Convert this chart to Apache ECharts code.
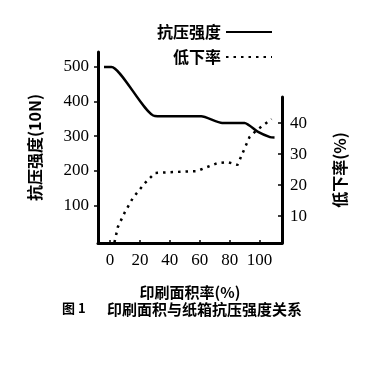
<!DOCTYPE html>
<html>
<head>
<meta charset="utf-8">
<script src="https://cdn.jsdelivr.net/npm/echarts@6/dist/echarts.min.js"></script>
<style>html,body{margin:0;padding:0;background:#fff}#c{width:382px;height:365px}</style>
</head>
<body>
<div id="c"></div>
<script>
const xTicks = [0, 20, 40, 60, 80, 100];
const leftTicks = [100, 200, 300, 400, 500];
const rightTicks = [10, 20, 30, 40];
const strengthName = '抗压强度';
const rateName = '低下率';
const strengthX = [-4, 1, 30, 45, 61, 75, 90, 99, 107, 110];
const strengthY = [500, 500, 358, 357, 357, 338, 338, 312, 297, 296];
const rateX = [3, 5.3, 10, 15.3, 23.3, 30, 43.3, 58, 72, 78.7, 85.3, 93.3, 98, 108];
const rateY = [1.5, 6.5, 11.3, 15.8, 20.6, 23.9, 24.2, 24.5, 27.1, 27.4, 26.5, 35.5, 37.7, 41.3];

const serif = '"Liberation Serif", "DejaVu Serif", serif';
const cjk = '"Noto Sans CJK SC", sans-serif';
const chart = echarts.init(document.getElementById('c'), null, {renderer: 'canvas'});
const axisLine = {show: true, onZero: false, lineStyle: {color: '#000', width: 3}};
chart.setOption({
  animation: false,
  backgroundColor: '#fff',
  legend: {
    orient: 'vertical', align: 'right', right: 104, top: 19,
    itemWidth: 46, itemHeight: 14, itemGap: 9,
    itemStyle: {opacity: 0},
    textStyle: {fontFamily: cjk, fontWeight: 'bold', fontSize: 16, color: '#000'},
    data: [strengthName, rateName]
  },
  grid: [
    {left: 98, right: 100, top: 52, bottom: 122},
    {left: 98, right: 100, top: 97, bottom: 122}
  ],
  xAxis: [
    {
      type: 'value', gridIndex: 0, min: -8, max: 115,
      axisLine: axisLine,
      axisTick: {show: true, inside: true, length: 3, customValues: xTicks, lineStyle: {color: '#000', width: 1.5}},
      axisLabel: {customValues: xTicks, color: '#000', fontFamily: serif, fontSize: 17, margin: 9},
      splitLine: {show: false},
      name: '印刷面积率(%)', nameLocation: 'middle', nameGap: 42,
      nameTextStyle: {fontFamily: cjk, fontWeight: 'bold', fontSize: 15, color: '#000'}
    },
    {type: 'value', gridIndex: 1, min: -8, max: 115, show: false}
  ],
  yAxis: [
    {
      type: 'value', gridIndex: 0, min: -9, max: 543, position: 'left',
      axisLine: axisLine,
      axisTick: {show: true, length: 4, customValues: leftTicks, lineStyle: {color: '#000', width: 1.5}},
      axisLabel: {customValues: leftTicks, color: '#000', fontFamily: serif, fontSize: 17, margin: 9},
      splitLine: {show: false},
      name: '抗压强度(10N)', nameLocation: 'middle', nameGap: 55, nameRotate: 90,
      nameTextStyle: {fontFamily: cjk, fontWeight: 'bold', fontSize: 16, color: '#000'}
    },
    {
      type: 'value', gridIndex: 1, min: 1.3, max: 48.4, position: 'right',
      axisLine: axisLine,
      axisTick: {show: true, inside: true, length: 4, customValues: rightTicks, lineStyle: {color: '#000', width: 1.5}},
      axisLabel: {customValues: rightTicks, color: '#000', fontFamily: serif, fontSize: 17, margin: 8},
      splitLine: {show: false},
      name: '低下率(%)', nameLocation: 'middle', nameGap: 50, nameRotate: 90,
      nameTextStyle: {fontFamily: cjk, fontWeight: 'bold', fontSize: 16, color: '#000'}
    }
  ],
  series: [
    {
      name: strengthName, type: 'line', xAxisIndex: 0, yAxisIndex: 0,
      showSymbol: false, symbol: 'none', smooth: 0.2,
      lineStyle: {color: '#000', width: 2.5},
      itemStyle: {color: '#000'},
      data: strengthX.map((x, i) => [x, strengthY[i]])
    },
    {
      name: rateName, type: 'line', xAxisIndex: 1, yAxisIndex: 1,
      showSymbol: false, symbol: 'none',
      lineStyle: {color: '#000', width: 2.5, type: [2.5, 5]},
      itemStyle: {color: '#000'},
      data: rateX.map((x, i) => [x, rateY[i]])
    }
  ],
  graphic: [
    {type: 'text', left: 62, top: 302, style: {text: '图 1', font: 'bold 13px ' + cjk, fill: '#000'}},
    {type: 'text', left: 107, top: 302, style: {text: '印刷面积与纸箱抗压强度关系', font: 'bold 15px ' + cjk, fill: '#000'}}
  ]
});
</script>
</body>
</html>
